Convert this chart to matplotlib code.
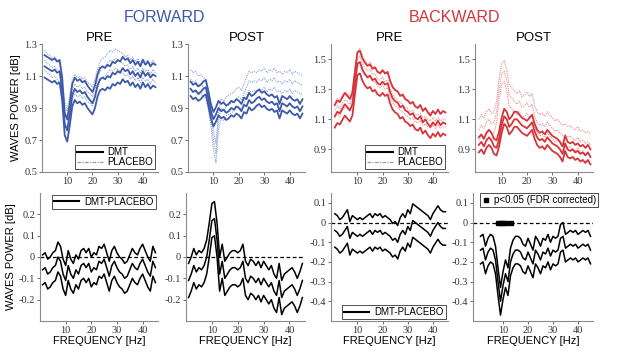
import numpy as np
import matplotlib.pyplot as plt
from matplotlib.lines import Line2D

freq = np.arange(1, 46)

# FORWARD PRE
fp_dmt = [1.16, 1.15, 1.14, 1.13, 1.14, 1.12, 1.13, 1.02, 0.80, 0.76, 0.86, 0.98, 1.02, 1.00, 1.01,
          0.99, 1.00, 0.97, 0.95, 0.93, 0.97, 1.04, 1.08, 1.09, 1.08, 1.10, 1.09, 1.12, 1.11, 1.13,
          1.12, 1.15, 1.13, 1.14, 1.11, 1.13, 1.10, 1.12, 1.09, 1.13, 1.10, 1.12, 1.09, 1.11, 1.10]
fp_pla = [1.20, 1.18, 1.17, 1.15, 1.16, 1.14, 1.12, 1.00, 0.88, 0.82, 0.92, 1.02, 1.05, 1.03, 1.04,
          1.02, 1.03, 1.00, 0.99, 0.97, 1.02, 1.08, 1.13, 1.15, 1.16, 1.18, 1.20, 1.19, 1.21, 1.20,
          1.19, 1.18, 1.16, 1.17, 1.14, 1.16, 1.13, 1.15, 1.12, 1.15, 1.13, 1.14, 1.11, 1.14, 1.12]
# FORWARD POST
fo_dmt = [1.02, 1.00, 1.01, 0.99, 1.00, 1.02, 1.03, 0.96, 0.88, 0.83, 0.86, 0.90, 0.88, 0.89, 0.87,
          0.88, 0.90, 0.89, 0.91, 0.90, 0.88, 0.92, 0.91, 0.95, 0.93, 0.94, 0.96, 0.97, 0.95, 0.96,
          0.94, 0.93, 0.94, 0.92, 0.93, 0.88, 0.93, 0.92, 0.91, 0.93, 0.91, 0.90, 0.91, 0.88, 0.91]
fo_pla = [1.08, 1.06, 1.07, 1.04, 1.05, 1.03, 1.02, 0.95, 0.85, 0.70, 0.62, 0.82, 0.90, 0.88, 0.91,
          0.92, 0.93, 0.94, 0.96, 0.97, 0.95, 0.99, 1.03, 1.07, 1.06, 1.07, 1.06, 1.08, 1.07, 1.09,
          1.06, 1.08, 1.07, 1.09, 1.06, 1.07, 1.05, 1.07, 1.06, 1.08, 1.05, 1.07, 1.06, 1.05, 1.04]
# BACKWARD PRE
bp_dmt = [1.12, 1.15, 1.14, 1.17, 1.20, 1.18, 1.16, 1.20, 1.34, 1.47, 1.48, 1.43, 1.40, 1.38, 1.39,
          1.36, 1.37, 1.34, 1.33, 1.35, 1.33, 1.34, 1.28, 1.24, 1.22, 1.21, 1.18, 1.19, 1.16, 1.15,
          1.13, 1.14, 1.11, 1.10, 1.12, 1.08, 1.10, 1.07, 1.05, 1.08, 1.06, 1.09, 1.06, 1.08, 1.07]
bp_pla = [1.16, 1.19, 1.17, 1.21, 1.23, 1.22, 1.20, 1.25, 1.38, 1.50, 1.52, 1.47, 1.44, 1.42, 1.43,
          1.40, 1.40, 1.37, 1.36, 1.38, 1.35, 1.36, 1.30, 1.26, 1.24, 1.23, 1.21, 1.20, 1.18, 1.17,
          1.15, 1.16, 1.13, 1.13, 1.14, 1.11, 1.12, 1.10, 1.09, 1.11, 1.09, 1.11, 1.09, 1.10, 1.10]
# BACKWARD POST
bo_dmt = [0.93, 0.95, 0.92, 0.96, 0.98, 0.96, 0.92, 0.91, 0.97, 1.06, 1.12, 1.10, 1.05, 1.07, 1.10,
          1.10, 1.08, 1.06, 1.05, 1.04, 1.06, 1.08, 1.02, 0.98, 0.96, 0.97, 0.95, 0.98, 0.96, 0.94,
          0.93, 0.92, 0.90, 0.87, 0.94, 0.90, 0.89, 0.90, 0.88, 0.89, 0.87, 0.88, 0.86, 0.88, 0.85]
bo_pla = [1.03, 1.06, 1.04, 1.08, 1.10, 1.07, 1.08, 1.15, 1.30, 1.40, 1.42, 1.36, 1.26, 1.24, 1.22,
          1.20, 1.22, 1.18, 1.19, 1.21, 1.18, 1.20, 1.12, 1.08, 1.06, 1.07, 1.05, 1.08, 1.06, 1.04,
          1.02, 1.03, 1.01, 0.99, 1.00, 0.98, 0.99, 0.97, 0.96, 0.98, 0.95, 0.96, 0.94, 0.95, 0.93]

# DMT-PLACEBO differences
fd_pre = [-0.06, -0.05, -0.08, -0.07, -0.05, -0.04, 0.00, -0.02, -0.08, -0.11, -0.04, -0.08, -0.10, -0.06, -0.08,
          -0.04, -0.03, -0.05, -0.03, -0.07, -0.05, -0.06, -0.02, -0.03, -0.01, -0.05, -0.09, -0.04, -0.02, -0.05,
          -0.07, -0.08, -0.10, -0.09, -0.06, -0.03, -0.05, -0.06, -0.03, -0.01, -0.04, -0.07, -0.09, -0.02, -0.05]
fd_post = [-0.11, -0.08, -0.04, -0.07, -0.05, -0.06, -0.04, 0.00, 0.08, 0.17, 0.18, 0.08, -0.08, -0.02, -0.10,
           -0.08, -0.06, -0.05, -0.05, -0.06, -0.05, -0.02, -0.10, -0.12, -0.09, -0.10, -0.12, -0.10, -0.13, -0.10,
           -0.12, -0.14, -0.12, -0.16, -0.18, -0.11, -0.19, -0.16, -0.15, -0.14, -0.13, -0.15, -0.18, -0.15, -0.11]
bd_pre = [-0.04, -0.05, -0.07, -0.06, -0.04, -0.02, -0.08, -0.05, -0.06, -0.07, -0.06, -0.07, -0.06, -0.05, -0.04,
          -0.06, -0.04, -0.05, -0.04, -0.06, -0.05, -0.06, -0.07, -0.09, -0.08, -0.10, -0.06, -0.04, -0.06, -0.02,
          -0.04, 0.01, 0.00, -0.01, -0.02, -0.03, -0.04, -0.05, -0.07, -0.04, -0.02, 0.00, -0.02, -0.03, -0.03]
bd_post = [-0.14, -0.13, -0.19, -0.15, -0.13, -0.14, -0.19, -0.30, -0.40, -0.32, -0.26, -0.30, -0.20, -0.16, -0.14,
           -0.14, -0.15, -0.18, -0.19, -0.15, -0.18, -0.21, -0.14, -0.16, -0.19, -0.15, -0.16, -0.13, -0.17, -0.14,
           -0.15, -0.14, -0.08, -0.07, -0.13, -0.12, -0.11, -0.12, -0.11, -0.13, -0.12, -0.11, -0.12, -0.11, -0.14]

# standard errors (half-width of the bands)
err_top = {'fp': (0.07, 0.06), 'fo': (0.045, 0.06), 'bp': (0.075, 0.05), 'bo': (0.05, 0.07)}
err_bot = {'fp': 0.07, 'fo': 0.08, 'bp': 0.085, 'bo': 0.07}
sig_freqs = [8, 9, 10, 11, 13]

BLUE = '#3d5aa8'
BLUE_L = '#8aa1d6'
RED = '#d5353a'
RED_L = '#e8898c'
GRAY = '#8a8a8a'
plt.rcParams['font.family'] = ['Liberation Sans', 'DejaVu Sans']

fig = plt.figure(figsize=(6.17, 3.53), dpi=100)
W, H = 617, 353


def add_ax(x0, x1, y0, y1):
    return fig.add_axes([x0 / W, 1 - y1 / H, (x1 - x0) / W, (y1 - y0) / H])


def style(ax, xlim, ylim, yticks, ylabels):
    ax.set_xlim(*xlim)
    ax.set_ylim(*ylim)
    ax.set_xticks([10, 20, 30, 40])
    ax.set_yticks(yticks)
    ax.set_yticklabels(ylabels)
    for s in ['top', 'right']:
        ax.spines[s].set_visible(False)
    for s in ['left', 'bottom']:
        ax.spines[s].set_color(GRAY)
        ax.spines[s].set_linewidth(0.8)
    ax.tick_params(colors='#555555', length=2, width=0.6, labelsize=7.5, pad=1.5)
    for lab in ax.get_xticklabels() + ax.get_yticklabels():
        lab.set_family('Liberation Serif')
        lab.set_color('#333333')


def band(ax, mean, err, color, ls, lw):
    m = np.array(mean)
    for v in (m + err, m, m - err):
        ax.plot(freq, v, color=color, ls=ls, lw=lw)


top = [('fp', fp_dmt, fp_pla, BLUE, BLUE_L, (42, 158)),
       ('fo', fo_dmt, fo_pla, BLUE, BLUE_L, (188, 305)),
       ('bp', bp_dmt, bp_pla, RED, RED_L, (331, 448)),
       ('bo', bo_dmt, bo_pla, RED, RED_L, (475, 593))]
bottom = [('fp', fd_pre, (40, 158)), ('fo', fd_post, (186, 305)),
          ('bp', bd_pre, (331, 448)), ('bo', bd_post, (473, 593))]

top_axes = []
for i, (key, dmt, pla, c, cl, (x0, x1)) in enumerate(top):
    ax = add_ax(x0, x1, 44, 172)
    band(ax, pla, err_top[key][1], cl, (0, (1, 1)), 0.8)
    band(ax, dmt, err_top[key][0], c, '-', 1.3)
    if i < 2:
        style(ax, (0, 46), (0.5, 1.3), [0.5, 0.7, 0.9, 1.1, 1.3], ['0.5', '0.7', '0.9', '1.1', '1.3'])
    else:
        style(ax, (-0.5, 46), (0.75, 1.6), [0.9, 1.1, 1.3, 1.5], ['0.9', '1.1', '1.3', '1.5'])
    ax.set_title('PRE' if i % 2 == 0 else 'POST', fontsize=9.5, pad=2)
    top_axes.append(ax)

for i in (0, 2):
    h = [Line2D([], [], color='black', lw=1.5), Line2D([], [], color='#999999', lw=0.9, ls=(0, (3, 1, 1, 1)))]
    leg = top_axes[i].legend(h, ['DMT', 'PLACEBO'], loc='lower right', fontsize=7, handlelength=2.6,
                             labelspacing=0.0, borderpad=0.2, handletextpad=0.5, fancybox=False,
                             borderaxespad=0.3, frameon=True)
    leg.get_frame().set_edgecolor('black')
    leg.get_frame().set_linewidth(0.6)

top_axes[0].set_ylabel('WAVES POWER [dB]', fontsize=8, labelpad=2)

bot_axes = []
for i, (key, d, (x0, x1)) in enumerate(bottom):
    ax = add_ax(x0, x1, 193, 321)
    ax.axhline(0, color='black', ls='--', lw=0.9, dashes=(3, 2))
    band(ax, d, err_bot[key], 'black', '-', 1.1)
    if i < 2:
        style(ax, (0, 46), (-0.3, 0.3), [-0.2, -0.1, 0, 0.1, 0.2], ['-0.2', '-0.1', '0', '0.1', '0.2'])
    else:
        style(ax, (-2 if i == 3 else -0.5, 46), (-0.5, 0.15), [-0.4, -0.3, -0.2, -0.1, 0, 0.1],
              ['-0.4', '-0.3', '-0.2', '-0.1', '0', '0.1'])
    ax.set_xlabel('FREQUENCY [Hz]', fontsize=8, labelpad=1)
    bot_axes.append(ax)

bot_axes[0].set_ylabel('WAVES POWER [dB]', fontsize=8, labelpad=2)

for i, loc in ((0, 'upper right'), (2, 'lower right')):
    h = [Line2D([], [], color='black', lw=1.5)]
    leg = bot_axes[i].legend(h, ['DMT-PLACEBO'], loc=loc, fontsize=7, handlelength=2.6,
                             borderpad=0.2, handletextpad=0.6, fancybox=False, borderaxespad=0.2)
    leg.get_frame().set_edgecolor('black')
    leg.get_frame().set_linewidth(0.6)

bot_axes[3].plot(sig_freqs, np.zeros(len(sig_freqs)), ls='none', marker='s', ms=2.8, color='black')
h = [Line2D([], [], ls='none', marker='s', ms=3, color='black')]
leg = bot_axes[3].legend(h, ['p<0.05 (FDR corrected)'], loc='upper center', fontsize=7, handlelength=0.8,
                         borderpad=0.2, handletextpad=0.4, fancybox=False, borderaxespad=0.0,
                         bbox_to_anchor=(0.55, 1.0))
leg.get_frame().set_edgecolor('black')
leg.get_frame().set_linewidth(0.6)

fig.text(165 / W, 1 - 18 / H, 'FORWARD', color=BLUE, fontsize=11.5, ha='center', va='center')
fig.text(455 / W, 1 - 18 / H, 'BACKWARD', color=RED, fontsize=11.5, ha='center', va='center')

fig.savefig('out.png', dpi=100, facecolor='white')
